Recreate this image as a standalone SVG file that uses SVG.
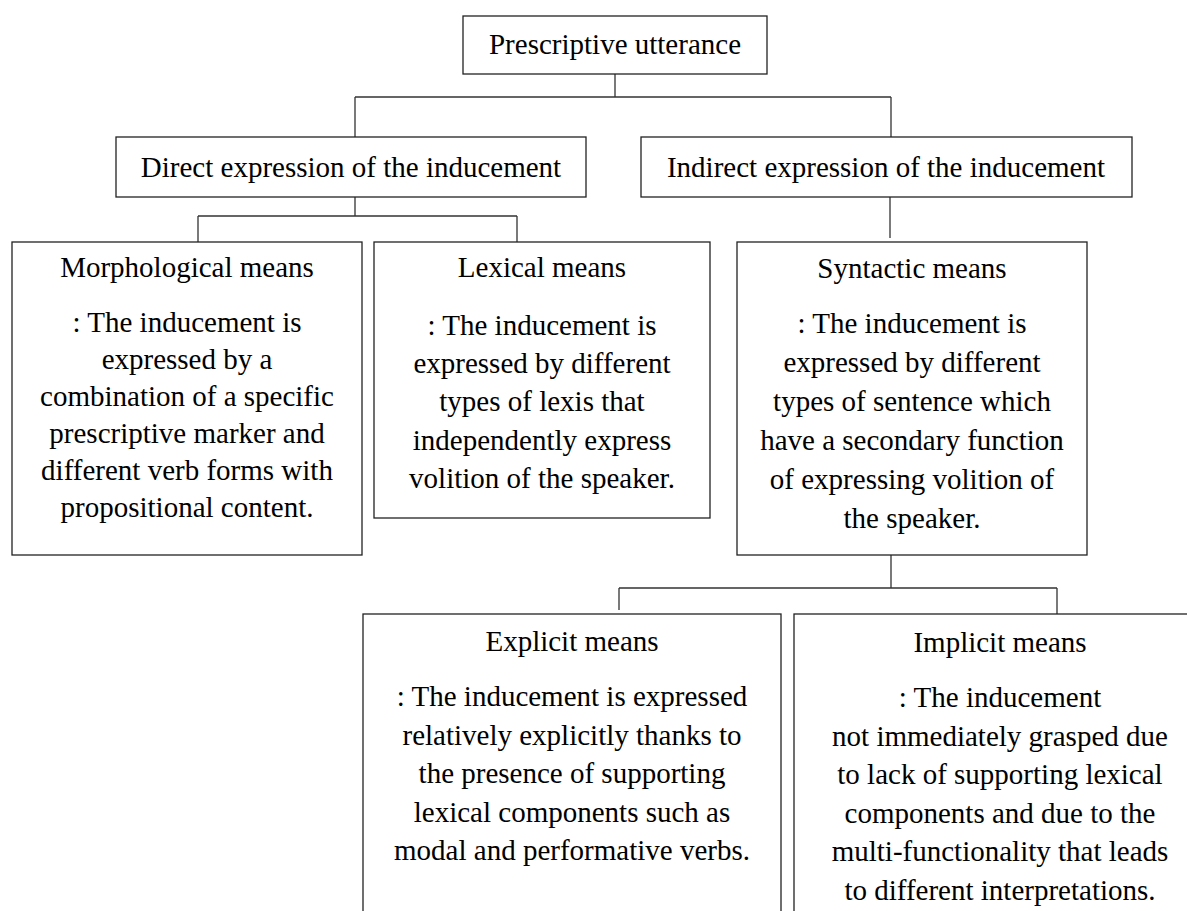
<svg xmlns="http://www.w3.org/2000/svg" width="1187" height="911" viewBox="0 0 1187 911">
<style>
.box{fill:#fff;stroke:#222;stroke-width:1.3}
.c{fill:none;stroke:#333;stroke-width:1.3}
text{font-family:"Liberation Serif","Times New Roman",serif;font-size:29px;fill:#000;text-anchor:middle}
</style>
<rect width="1187" height="911" fill="#fff"/>
<g id="connectors">
<path class="c" d="M615,74V97M355,97H891M355,97V137M891,97V137"/>
<path class="c" d="M355,197V216M198,216H517M198,216V242M517,216V242"/>
<path class="c" d="M890,197V238"/>
<path class="c" d="M891,555V588M619,588H1057M619,588V610M1057,588V614"/>
</g>
<g id="n-top">
<rect class="box" x="463" y="16" width="304" height="58"/>
<text x="615" y="54">Prescriptive utterance</text>
</g>
<g id="n-direct">
<rect class="box" x="116" y="137" width="470" height="60"/>
<text x="351" y="177">Direct expression of the inducement</text>
</g>
<g id="n-indirect">
<rect class="box" x="641" y="137" width="491" height="60"/>
<text x="886" y="177">Indirect expression of the inducement</text>
</g>
<g id="n-morph">
<rect class="box" x="12" y="242" width="350" height="313"/>
<text x="187" y="277">Morphological means</text>
<text x="187" y="332">: The inducement is</text>
<text x="187" y="369">expressed by a</text>
<text x="187" y="406">combination of a specific</text>
<text x="187" y="443">prescriptive marker and</text>
<text x="187" y="480">different verb forms with</text>
<text x="187" y="517">propositional content.</text>
</g>
<g id="n-lexical">
<rect class="box" x="374" y="242" width="336" height="276"/>
<text x="542" y="277">Lexical means</text>
<text x="542" y="335">: The inducement is</text>
<text x="542" y="373">expressed by different</text>
<text x="542" y="411">types of lexis that</text>
<text x="542" y="450">independently express</text>
<text x="542" y="488">volition of the speaker.</text>
</g>
<g id="n-syntactic">
<rect class="box" x="737" y="242" width="350" height="313"/>
<text x="912" y="278">Syntactic means</text>
<text x="912" y="333">: The inducement is</text>
<text x="912" y="372">expressed by different</text>
<text x="912" y="411">types of sentence which</text>
<text x="912" y="450">have a secondary function</text>
<text x="912" y="489">of expressing volition of</text>
<text x="912" y="528">the speaker.</text>
</g>
<g id="n-explicit">
<rect class="box" x="363" y="614" width="418" height="310"/>
<text x="572" y="651">Explicit means</text>
<text x="572" y="706">: The inducement is expressed</text>
<text x="572" y="745">relatively explicitly thanks to</text>
<text x="572" y="783">the presence of supporting</text>
<text x="572" y="822">lexical components such as</text>
<text x="572" y="860">modal and performative verbs.</text>
</g>
<g id="n-implicit">
<rect class="box" x="794" y="614" width="412" height="310"/>
<text x="1000" y="652">Implicit means</text>
<text x="1000" y="707">: The inducement</text>
<text x="1000" y="746">not immediately grasped due</text>
<text x="1000" y="784">to lack of supporting lexical</text>
<text x="1000" y="823">components and due to the</text>
<text x="1000" y="861">multi-functionality that leads</text>
<text x="1000" y="900">to different interpretations.</text>
</g>
</svg>
